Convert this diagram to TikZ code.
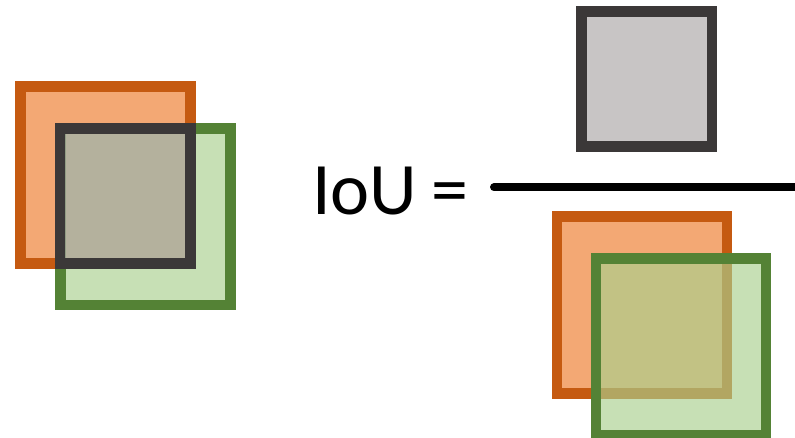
\documentclass[tikz,border=0pt]{standalone}
\usepackage{fontspec}
\setmainfont{Carlito}
\usepackage{tikz}
\usetikzlibrary{positioning}
\definecolor{predline}{HTML}{C55A11}
\definecolor{predfill}{HTML}{F3A874}
\definecolor{truthline}{HTML}{548235}
\definecolor{truthfill}{HTML}{A9D08E}
\definecolor{interline}{HTML}{3B3838}
\definecolor{interfill}{HTML}{AEAAAA}
\tikzstyle{box}=[rectangle,inner sep=0,line width=10.6pt,minimum width=170pt,minimum height=176.6pt]
\tikzstyle{pred}=[box,draw=predline,fill=predfill]
\tikzstyle{truth}=[box,draw=truthline,fill=truthfill,fill opacity=.65]
\tikzstyle{inter}=[box,draw=interline,fill=interfill,fill opacity=.68,minimum width=130.6pt,minimum height=135pt]

\begin{document}
\begin{tikzpicture}[x=1pt,y=-1pt]
  \useasboundingbox (0,0) rectangle (795,438);

  \node [pred]  at (105.7, 175)   (predL)  {};
  \node [truth] at (145.2, 216.6) (truthL) {};
  \node [inter] at (125.3, 195.8) (interL) {};

  \node [inter] at (646.5, 79.2)  (interT) {};
  \node [pred]  at (641.8, 305)   (predB)  {};
  \node [truth] at (681.1, 346.6) (truthB) {};

  \node [anchor=base west, inner sep=0, font=\fontsize{74}{88}\selectfont] at (312, 214.3) (iou) {IoU\hspace{-3pt} =};

  \coordinate (barL) at (494, 187.3);
  \coordinate (barR) at (795, 187.3);
  \draw [line width=8pt, line cap=round] (barL) -- (barR);
\end{tikzpicture}
\end{document}
